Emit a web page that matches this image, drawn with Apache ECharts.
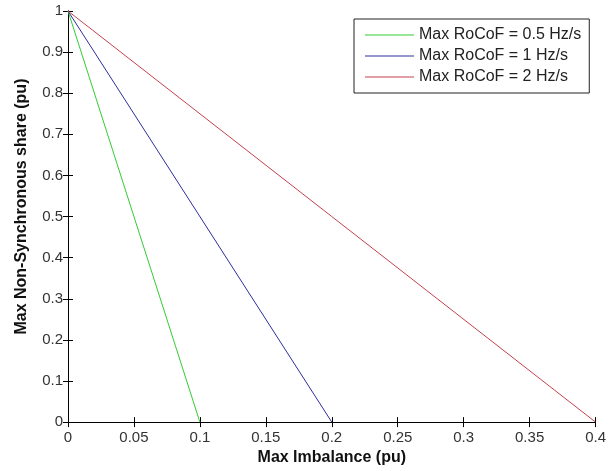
<!DOCTYPE html>
<html><head><meta charset="utf-8">
<script src="https://cdn.jsdelivr.net/npm/echarts@6/dist/echarts.min.js"></script>
<style>html,body{margin:0;padding:0;background:#fff}#c{width:609px;height:471px}</style>
</head><body><div id="c"></div>
<script>
var seriesNames = ['Max RoCoF = 0.5 Hz/s', 'Max RoCoF = 1 Hz/s', 'Max RoCoF = 2 Hz/s'];
var rocof05 = [[0, 1], [0.1, 0]];
var rocof1 = [[0, 1], [0.2, 0]];
var rocof2 = [[0, 1], [0.4, 0]];
var colors = ['#33cc33', '#2e2e9c', '#c2424e'];
var xName = 'Max Imbalance (pu)';
var yName = 'Max Non-Synchronous share (pu)';

var font = 'Liberation Sans, Arial, sans-serif';
var chart = echarts.init(document.getElementById('c'), null, {renderer: 'canvas'});
function mkSeries(name, data, color) {
  return {name: name, type: 'line', data: data, symbol: 'none', showSymbol: false,
    lineStyle: {color: color, width: 1}, itemStyle: {color: color}, animation: false, z: 3};
}
var tickCommon = {show: true, inside: true, length: 5, lineStyle: {color: '#000', width: 1}};
chart.setOption({
  animation: false,
  backgroundColor: '#fff',
  grid: {left: 68, right: 11, top: 11, bottom: 45},
  legend: {
    data: seriesNames.map(function (n) { return {name: n, icon: 'rect'}; }),
    orient: 'vertical', left: 354, top: 19,
    backgroundColor: '#fff', borderColor: '#222', borderWidth: 1,
    padding: [8, 8, 8, 11], itemGap: 5, itemWidth: 49, itemHeight: 1,
    textStyle: {fontFamily: font, fontSize: 16, lineHeight: 16, color: '#222'}
  },
  xAxis: [{
    type: 'value', min: 0, max: 0.4, interval: 0.05,
    name: xName, nameLocation: 'middle', nameGap: 27,
    nameTextStyle: {fontFamily: font, fontSize: 16, fontWeight: 'bold', color: '#111'},
    axisLine: {show: true, lineStyle: {color: '#000', width: 1}},
    axisTick: tickCommon,
    axisLabel: {fontFamily: font, fontSize: 15, color: '#333', margin: 8,
      formatter: function (v) { return String(+v.toFixed(2)); }},
    splitLine: {show: false}
  }, {
    type: 'value', min: 0, max: 0.4, interval: 0.05, position: 'top',
    axisLine: {show: true, lineStyle: {color: '#000', width: 1}},
    axisTick: tickCommon, axisLabel: {show: false}, splitLine: {show: false}
  }],
  yAxis: [{
    type: 'value', min: 0, max: 1, interval: 0.1,
    name: yName, nameLocation: 'middle', nameGap: 38,
    nameTextStyle: {fontFamily: font, fontSize: 16, fontWeight: 'bold', color: '#111', padding: [0, 0, 0, 20]},
    axisLine: {show: true, lineStyle: {color: '#000', width: 1}},
    axisTick: tickCommon,
    axisLabel: {fontFamily: font, fontSize: 15, color: '#333', margin: 5,
      formatter: function (v) { return String(+v.toFixed(1)); }},
    splitLine: {show: false}
  }, {
    type: 'value', min: 0, max: 1, interval: 0.1, position: 'right',
    axisLine: {show: true, lineStyle: {color: '#000', width: 1}},
    axisTick: tickCommon, axisLabel: {show: false}, splitLine: {show: false}
  }],
  series: [
    mkSeries(seriesNames[0], rocof05, colors[0]),
    mkSeries(seriesNames[1], rocof1, colors[1]),
    mkSeries(seriesNames[2], rocof2, colors[2])
  ]
});
</script></body></html>
